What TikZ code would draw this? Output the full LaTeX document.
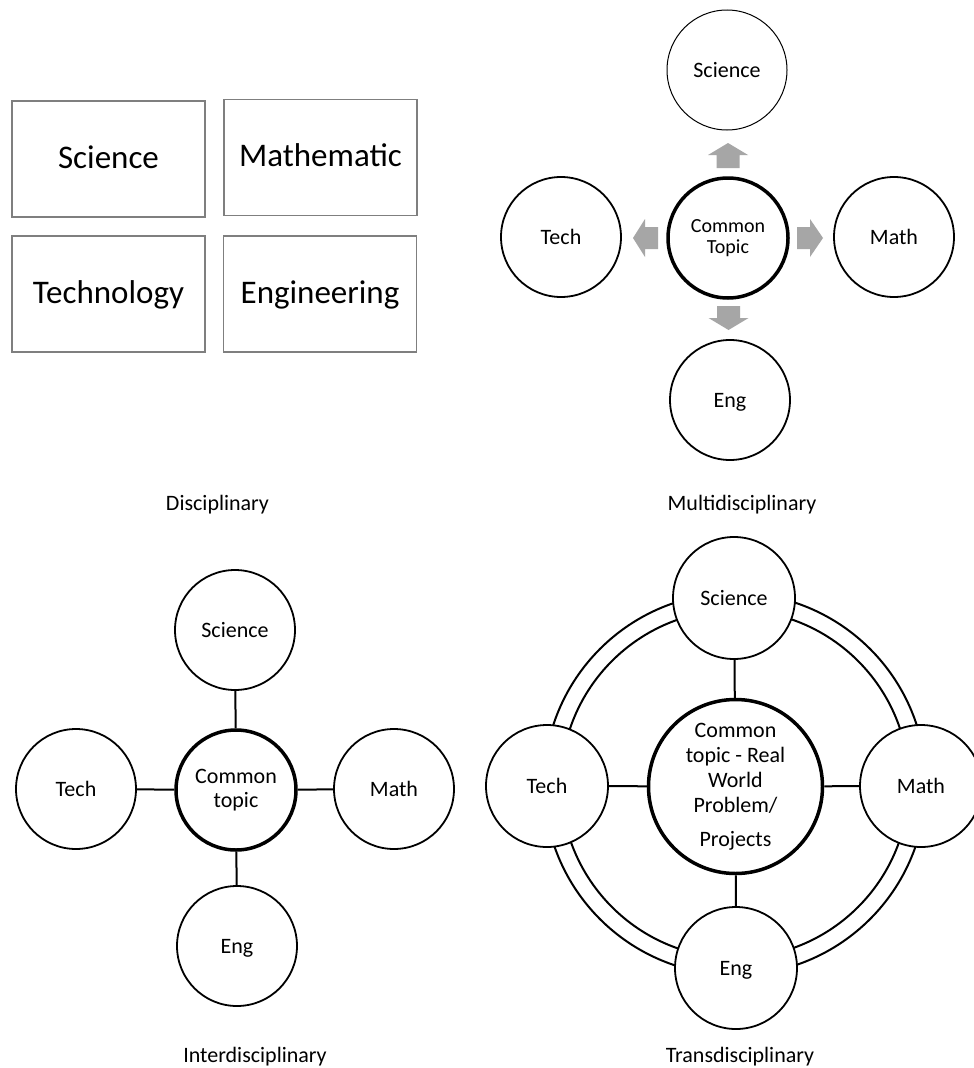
\documentclass[tikz,border=0pt]{standalone}
\usepackage{fontspec}
\setmainfont{Carlito}
\definecolor{boxgray}{HTML}{7F7F7F}
\definecolor{arrgray}{HTML}{A6A6A6}
\tikzset{
  boxst/.style={draw=boxgray, line width=1.5pt, minimum width=193pt, minimum height=116pt, inner sep=0pt, text height=24pt, text depth=6pt, font=\fontsize{33}{40}\selectfont},
  circ/.style={circle, draw=black, line width=1.8pt, fill=white, minimum size=120pt, inner sep=0pt, align=center, text height=16pt, text depth=2pt, font=\fontsize{22}{24}\selectfont},
  hub/.style={circ, line width=3.5pt, text height={}, text depth={}},
  lbl/.style={anchor=base, inner sep=0pt, font=\fontsize{22}{26}\selectfont},
  link/.style={line width=2pt},
  ring/.style={line width=2pt},
  blk/.style={fill=arrgray}
}
\begin{document}
\begin{tikzpicture}[x=1pt,y=-1pt]
\useasboundingbox (0,0) rectangle (974,1068);
\fill[white] (0,0) rectangle (974,1068);

% ---------- Disciplinary ----------
\node[boxst] (dsci) at (108.5,159) {Science};
\node[boxst] (dmat) at (320.5,157.5) {Mathematic};
\node[boxst] (dtec) at (108.5,294) {Technology};
\node[boxst] (deng) at (320,294) {Engineering};
\node[lbl] (ldisc) at (217.5,510) {Disciplinary};

% ---------- Multidisciplinary ----------
\node[circ, line width=1pt] (msci) at (727,70) {Science};
\node[circ] (mtec) at (561,237) {Tech};
\node[hub, font=\fontsize{20}{21.5}\selectfont] (mhub) at (728,238) {Common\\Topic};
\node[circ] (mmat) at (894,237) {Math};
\node[circ] (meng) at (730,400) {Eng};
\fill[blk] (716.5,168) -- (716.5,155) -- (708,155) -- (728,143) -- (748,155) -- (739.5,155) -- (739.5,168) -- cycle;
\fill[blk] (717,306) -- (717,318) -- (708.5,318) -- (728.5,330) -- (748.5,318) -- (740,318) -- (740,306) -- cycle;
\fill[blk] (658,227) -- (645,227) -- (645,219) -- (633,238) -- (645,257) -- (645,249) -- (658,249) -- cycle;
\fill[blk] (797,227) -- (810,227) -- (810,219) -- (823,238) -- (810,257) -- (810,249) -- (797,249) -- cycle;
\node[lbl] (lmulti) at (742,510) {Multidisciplinary};

% ---------- Interdisciplinary ----------
\node[circ] (isci) at (235,630) {Science};
\node[circ] (itec) at (76,789) {Tech};
\node[hub] (ihub) at (236,790) {Common\\topic};
\node[circ] (imat) at (394,789) {Math};
\node[circ] (ieng) at (237,946) {Eng};
\draw[link] (isci) -- (ihub);
\draw[link] (itec) -- (ihub);
\draw[link] (imat) -- (ihub);
\draw[link] (ieng) -- (ihub);
\node[lbl] (linter) at (255,1062) {Interdisciplinary};

% ---------- Transdisciplinary ----------
\coordinate (rc) at (735,784);
\draw[ring] (rc) circle[radius=191pt];
\draw[ring] (rc) circle[radius=174pt];
\node[circ, minimum size=122pt] (tsci) at (734,598) {Science};
\node[circ, minimum size=122pt] (ttec) at (547,786) {Tech};
\node[hub, minimum size=174pt, font=\fontsize{22}{25}\selectfont] (thub) at (735.5,786.5) {Common\\topic - Real\\World\\Problem/\\[9pt]Projects};
\node[circ, minimum size=122pt] (tmat) at (921,786) {Math};
\node[circ, minimum size=122pt] (teng) at (736,968) {Eng};
\draw[link] (tsci) -- (thub);
\draw[link] (ttec) -- (thub);
\draw[link] (tmat) -- (thub);
\draw[link] (teng) -- (thub);
\node[lbl] (ltrans) at (740,1062) {Transdisciplinary};
\end{tikzpicture}
\end{document}
